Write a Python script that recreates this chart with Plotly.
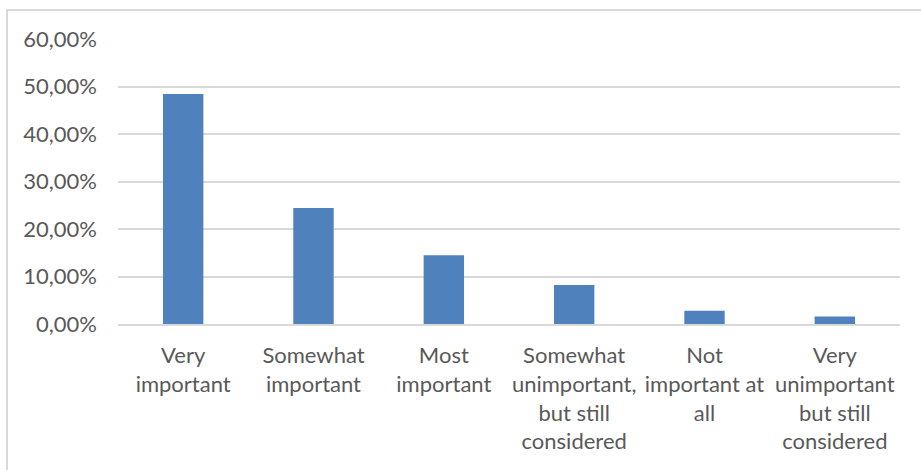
import plotly.graph_objects as go

categories = [
    "Very<br>important",
    "Somewhat<br>important",
    "Most<br>important",
    "Somewhat<br>unimportant,<br>but still<br>considered",
    "Not<br>important at<br>all",
    "Very<br>unimportant<br>but still<br>considered",
]
values = [0.484, 0.244, 0.145, 0.082, 0.028, 0.016]
y_ticks = [0, 0.1, 0.2, 0.3, 0.4, 0.5, 0.6]

W, H = 921, 470
L, R, T, B = 118, 21, 39, 146
pw, ph = W - L - R, H - T - B

fig = go.Figure(go.Bar(
    x=categories, y=values, width=0.31,
    marker=dict(color="#4f81bd", line=dict(width=0)),
))

font = dict(family="Lato, 'Liberation Sans', sans-serif", size=22, color="#595959")

def px_x(p):
    return (p - L) / pw

def px_y(p):
    return (H - B - p) / ph

fig.update_layout(
    width=W, height=H,
    margin=dict(l=L, r=R, t=T, b=B),
    plot_bgcolor="white", paper_bgcolor="white",
    separators=",.",
    font=font,
    showlegend=False,
    xaxis=dict(
        showgrid=False, showline=True, linecolor="#d9d9d9", linewidth=2,
        ticks="", tickfont=font, ticklabelstandoff=11, tickangle=0,
        fixedrange=True,
    ),
    yaxis=dict(
        range=[0, 0.6], tickvals=y_ticks, tickformat=".2%",
        showgrid=True, gridcolor="#d9d9d9", gridwidth=2,
        zeroline=False, showline=False, ticks="",
        tickfont=font, ticklabelstandoff=20,
    ),
    shapes=[dict(
        type="rect", xref="paper", yref="paper",
        x0=px_x(7), x1=px_x(W + 20), y0=px_y(H + 20), y1=px_y(10),
        line=dict(color="#d9d9d9", width=2), fillcolor="rgba(0,0,0,0)",
        layer="below",
    )],
)

fig.write_html("out.html")
